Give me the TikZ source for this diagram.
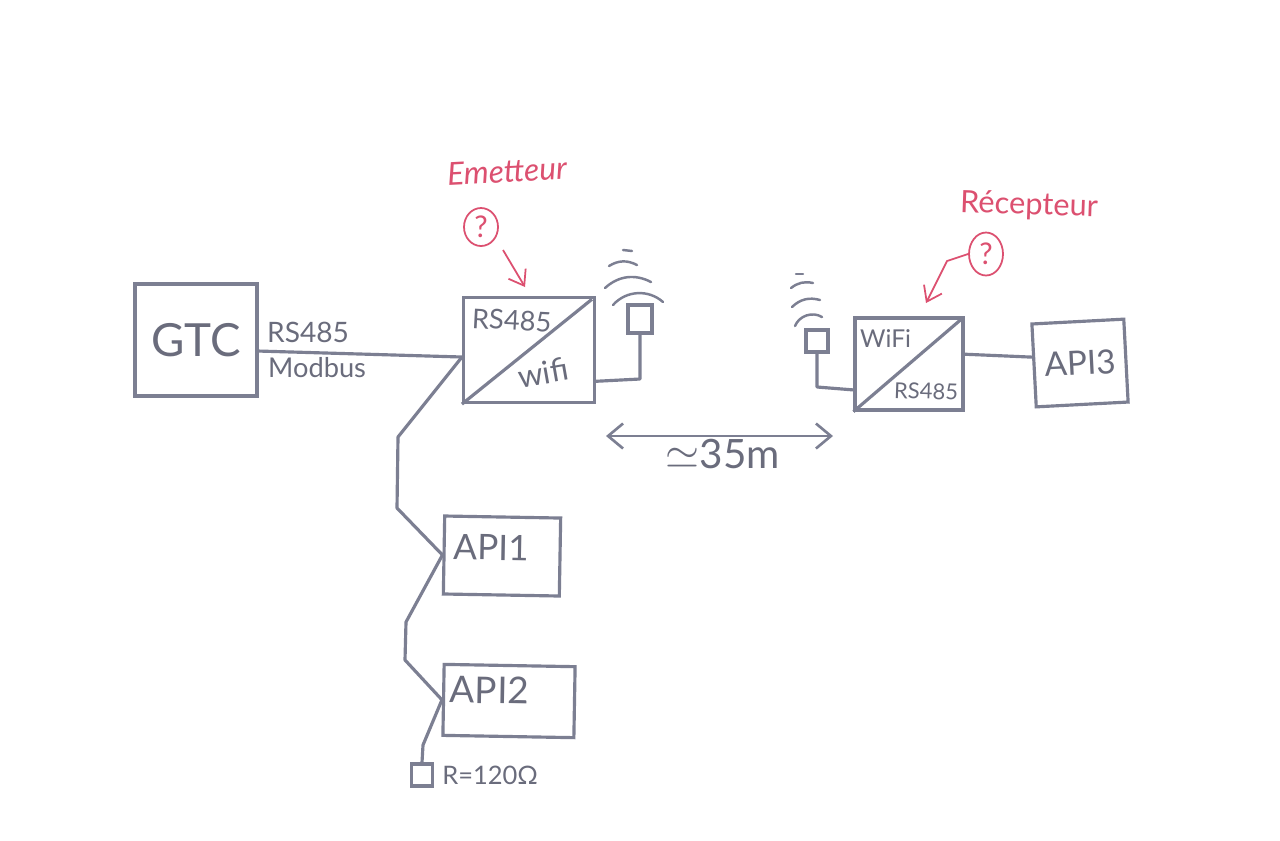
\documentclass[tikz,border=0pt]{standalone}
\usepackage{fontspec}
\setmainfont{Lato}
\usetikzlibrary{arrows.meta,positioning,shapes.geometric}
\definecolor{pen}{HTML}{7C7F92}
\definecolor{ink}{HTML}{6A6C7C}
\definecolor{redpen}{HTML}{DC5070}
\tikzset{
  box/.style={
    draw=pen,
    rectangle,
    line width=1.8pt,
    inner sep=0pt,
    text=ink
  },
  wire/.style={draw=pen,line width=1.8pt,line join=round},
  wave/.style={draw=pen,line width=1.4pt,line cap=round},
  note/.style={text=redpen,font=\fontsize{17.5}{20}\selectfont},
  quest/.style={ellipse,draw=redpen,line width=1pt,inner sep=0pt,text=redpen,font=\fontsize{17}{18}\selectfont},
  pointer/.style={draw=redpen,line width=1pt,line join=round,-{Straight Barb[length=2.8mm,width=4mm]}},
  label/.style={text=ink,font=\fontsize{15.5}{17}\selectfont}
}

\begin{document}
\begin{tikzpicture}[x=0.02cm,y=-0.02cm]
\useasboundingbox[fill=white] (0,0) rectangle (1280,840);

\node[box, minimum width=2.44cm, minimum height=2.24cm, font=\fontsize{26}{28}\selectfont] (gtc) at (196,340) {GTC};
\node[box, minimum width=2.62cm, minimum height=2.1cm] (em) at (529,350) {};
\node[box, minimum width=2.16cm, minimum height=1.84cm] (rx) at (909,364) {};
\node[box, rotate=3, minimum width=1.84cm, minimum height=1.66cm, font=\fontsize{19}{20}\selectfont] (api3) at (1080,363) {API3};
\node[box, rotate=-1, minimum width=2.32cm, minimum height=1.56cm, font=\fontsize{20}{21}\selectfont, text width=1.94cm, align=left, text depth=0.34cm] (api1) at (502,556) {API1};
\node[box, rotate=-1, minimum width=2.62cm, minimum height=1.42cm, font=\fontsize{21}{22}\selectfont, text width=2.36cm, align=left, text depth=0.42cm] (api2) at (509,701) {API2};

\node[box, minimum width=0.48cm, minimum height=0.56cm] (antem) at (640,319) {};
\node[box, minimum width=0.44cm, minimum height=0.44cm] (antrx) at (817,341) {};
\node[box, minimum width=0.42cm, minimum height=0.44cm] (res) at (422,775) {};

\node[label, anchor=west, font=\fontsize{16}{17}\selectfont] (rs485) at (261,332) {RS485};
\node[label, anchor=west] (modbus) at (262,368) {Modbus};
\node[label, anchor=west, rotate=-3] (rsem) at (466,318) {RS485};
\node[label, anchor=west, rotate=10, font=\fontsize{18}{19}\selectfont] (wifiem) at (512,378) {wifi};
\node[label, anchor=west, font=\fontsize{14}{15}\selectfont] (wifirx) at (854,339) {WiFi};
\node[label, anchor=west, font=\fontsize{12.5}{13}\selectfont, rotate=-2] (rsrx) at (888,390) {RS485};
\node[label, right=0.04cm of res, font=\fontsize{14.5}{16}\selectfont] (rval) {R=120Ω};
\node[label, font=\fontsize{23}{24}\selectfont] (dist) at (723,454) {$\simeq$35m};

\node[note, font=\itshape\fontsize{18}{20}\selectfont, rotate=3] (emnote) at (507,171) {Emetteur};
\node[note, rotate=-2] (rxnote) at (1029,206) {Récepteur};
\node[quest, minimum width=0.68cm, minimum height=0.76cm] (qem) at (481,227) {?};
\node[quest, minimum width=0.68cm, minimum height=0.86cm] (qrx) at (986,254) {?};

\coordinate (tap) at (462,357);
\coordinate (bend1) at (398,437);
\coordinate (bend2) at (397,508);
\coordinate (bend3) at (406,622);
\coordinate (bend4) at (405,660);
\coordinate (bend5) at (423,745);
\coordinate (cornerem) at (640,379);
\coordinate (cornerrx) at (817,387);
\coordinate (kink) at (947,261);
\coordinate (ptem) at (525,287);
\coordinate (ptrx) at (926,303);
\coordinate (arrl) at (606,436);
\coordinate (arrr) at (833,436);

\draw[wire] (gtc.-10) -- (tap);
\draw[wire] (tap) -- (bend1) -- (bend2) -- (api1.west);
\draw[wire] (api1.west) -- (bend3) -- (bend4) -- (api2.west);
\draw[wire] (api2.west) -- (bend5) -- (res.north);
\draw[wire] (em.-25) -- (cornerem) -- (antem.south);
\draw[wire] (antrx.south) -- (cornerrx) -- (rx.205);
\draw[wire] (rx.10) -- (api3.170);
\draw[wire, shorten >=3pt] (em.south west) -- (em.north east);
\draw[wire, shorten >=3pt] (rx.south west) -- (rx.north east);
\draw[wire, line width=1.5pt, {Straight Barb[length=3mm,width=5mm]}-{Straight Barb[length=3mm,width=5mm]}] (arrl) -- (arrr);

\draw[pointer] (503,250) -- (ptem);
\draw[pointer] (qrx.west) -- (kink) -- (ptrx);

% emission
\draw[wave] (613,305) to[bend left=45] (663,302);
\draw[wave] (605,288) to[bend left=35] (651,282);
\draw[wave] (609,266) to[bend left=30] (637,265);
\draw[wave] (623,250) -- (632,251);
% reception
\draw[wave] (795,326) to[bend left=50] (822,317);
\draw[wave] (792,307) to[bend left=30] (820,300);
\draw[wave] (791,288) to[bend left=25] (813,283);
\draw[wave] (796,274) -- (803,274);
\end{tikzpicture}
\end{document}
